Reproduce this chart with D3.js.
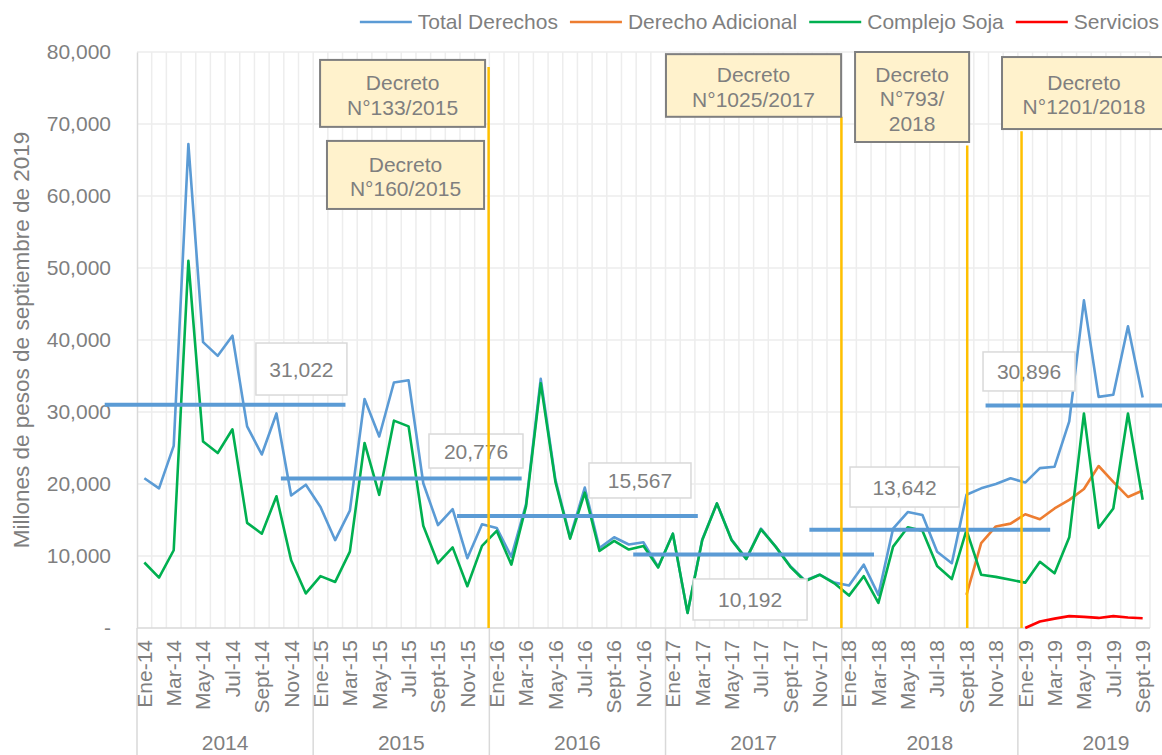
<!DOCTYPE html>
<html><head><meta charset="utf-8">
<script src="https://cdn.jsdelivr.net/npm/d3@7"></script>
<style>body{margin:0;background:#fff} svg{display:block;font-family:"Liberation Sans",Arial,sans-serif}</style>
</head><body><svg id="c" width="1162" height="755"></svg>
<script>
// ---------- DATA ----------
const monthNames = ["Ene","Feb","Mar","Abr","May","Jun","Jul","Ago","Sept","Oct","Nov","Dic"];
const years = [2014, 2015, 2016, 2017, 2018, 2019];
const monthCount = 69; // Ene-14 .. Sept-19

const totalDerechos = [
  20800, 19400, 25300, 67200, 39700, 37800, 40600, 28000, 24100, 29800, 18400, 19900,
  16800, 12200, 16300, 31800, 26600, 34100, 34400, 20100, 14300, 16500, 9700, 14400,
  13900, 9900, 17200, 34600, 20600, 12600, 19500, 11100, 12600, 11600, 11900, 8500,
  13100, 2100, 12300, 17300, 12300, 9600, 13800, 11300, 8600, 6600, 7400, 6300,
  5900, 8800, 4600, 13800, 16100, 15700, 10600, 9000, 18500, 19400, 20000, 20800,
  20200, 22200, 22400, 28700, 45500, 32100, 32400, 41900, 32000
];
const complejoSoja = [
  9100, 7000, 10800, 51000, 25900, 24300, 27600, 14600, 13100, 18300, 9400, 4800,
  7200, 6400, 10600, 25700, 18500, 28800, 28000, 14200, 9000, 11200, 5800, 11400,
  13500, 8800, 16900, 34000, 20300, 12400, 18800, 10700, 12100, 10900, 11400, 8400,
  13100, 2100, 12200, 17300, 12200, 9600, 13700, 11300, 8500, 6500, 7400, 6200,
  4500, 7200, 3500, 11300, 14000, 13500, 8600, 6800, 13600, 7400, 7100, 6700,
  6300, 9200, 7600, 12600, 29800, 13900, 16600, 29800, 17800
];
const derechoAdicionalStart = 56; // Sept-18
const derechoAdicional = [4600, 11800, 14100, 14500, 15800, 15100, 16600, 17800, 19300, 22500, 20300, 18200, 19100];
const serviciosStart = 60; // Ene-19
const servicios = [0, 900, 1300, 1650, 1550, 1400, 1650, 1450, 1350];

const yTicks = [0, 10000, 20000, 30000, 40000, 50000, 60000, 70000, 80000];
const yearAverages = [31022, 20776, 15567, 10192, 13642, 30896];
const seriesNames = ["Total Derechos", "Derecho Adicional", "Complejo Soja", "Servicios"];
const decretoTexts = [
  ["Decreto", "N°133/2015"],
  ["Decreto", "N°160/2015"],
  ["Decreto", "N°1025/2017"],
  ["Decreto", "N°793/", "2018"],
  ["Decreto", "N°1201/2018"]
];
// decree vertical markers, in month units (0 = start of Ene-14)
const decretoMonths = [23.95, 47.98, 56.55, 60.25];

// ---------- LAYOUT / STYLE ----------
const W = 1162, H = 755;
const plot = {left: 137, right: 1150, top: 52, bottom: 628};
const colors = ["#5B9BD5", "#ED7D31", "#00B050", "#FF0000"];
const gray = "#7F7F7F";
const font = 21;
const avgHalfLen = 8.2; // months
const markerTops = [77900, 71000, 67000, 69000];
// decree boxes: month-unit x range and value y range
const decretoBoxes = [
  {u0: 12.47, u1: 23.71, v0: 78900, v1: 69600},
  {u0: 12.94, u1: 23.64, v0: 67650, v1: 58200},
  {u0: 36.03, u1: 47.96, v0: 79700, v1: 71000},
  {u0: 48.91, u1: 56.68, v0: 80000, v1: 67500},
  {u0: 58.92, u1: 70.09, v0: 79300, v1: 69300}
];
// average label boxes: centre (month units, value) and pixel size
const avgLabelBoxes = [
  {u: 11.2, v: 35970, w: 91, h: 52},
  {u: 23.09, v: 24580, w: 94, h: 34},
  {u: 34.26, v: 20490, w: 102, h: 35},
  {u: 41.76, v: 3960, w: 114, h: 41},
  {u: 52.28, v: 19580, w: 109, h: 40},
  {u: 60.76, v: 35630, w: 92, h: 39}
];

// ---------- CHART ----------
const svg = d3.select("#c");
svg.append("rect").attr("width", W).attr("height", H).attr("fill", "#fff");

const xu = d3.scaleLinear().domain([0, monthCount]).range([plot.left, plot.right]);
const y = d3.scaleLinear().domain([0, 80000]).range([plot.bottom, plot.top]);
const categories = d3.range(monthCount).map(i => monthNames[i % 12] + "-" + String(years[Math.floor(i / 12)]).slice(2));
const xb = d3.scaleBand().domain(categories).range([plot.left, plot.right]);
const cx = i => xb(categories[i]) + xb.bandwidth() / 2;

// gridlines
const grid = svg.append("g");
grid.selectAll("line.v").data(d3.range(1, monthCount + 1)).join("line")
  .attr("x1", d => xu(d)).attr("x2", d => xu(d))
  .attr("y1", plot.top).attr("y2", plot.bottom)
  .attr("stroke", "#EDEDED").attr("stroke-width", 1.5);
grid.selectAll("line.h").data(yTicks.slice(1)).join("line")
  .attr("x1", plot.left).attr("x2", plot.right)
  .attr("y1", d => y(d)).attr("y2", d => y(d))
  .attr("stroke", "#EDEDED").attr("stroke-width", 1.5);

// y axis
const yAxis = svg.append("g").attr("transform", `translate(${plot.left},0)`)
  .call(d3.axisLeft(y).tickValues(yTicks).tickSize(0).tickPadding(26)
    .tickFormat(d => d === 0 ? "-" : d3.format(",")(d)));
yAxis.select(".domain").attr("stroke", "#D9D9D9").attr("stroke-width", 1.5);
yAxis.selectAll("text").attr("fill", gray).style("font-size", font + "px")
  .style("font-family", '"Liberation Sans",Arial,sans-serif');

// x axis baseline
svg.append("line").attr("x1", plot.left).attr("x2", plot.right)
  .attr("y1", plot.bottom).attr("y2", plot.bottom)
  .attr("stroke", "#D9D9D9").attr("stroke-width", 1.5);

// year separators
svg.selectAll("line.ysep").data(years.map((yr, k) => k * 12)).join("line")
  .attr("x1", d => xu(d)).attr("x2", d => xu(d))
  .attr("y1", plot.bottom).attr("y2", H)
  .attr("stroke", "#D9D9D9").attr("stroke-width", 1.5);

// month tick labels (every other month)
svg.append("g").selectAll("text").data(d3.range(0, monthCount, 2)).join("text")
  .attr("transform", d => `translate(${cx(d)},${plot.bottom + 12}) rotate(-90)`)
  .attr("dy", "0.35em").attr("text-anchor", "end")
  .attr("fill", gray).style("font-size", font + "px")
  .text(d => categories[d]);

// year labels
svg.append("g").selectAll("text").data(years).join("text")
  .attr("x", (d, k) => xu(k * 12 + 6)).attr("y", 750)
  .attr("text-anchor", "middle").attr("fill", gray).style("font-size", font + "px")
  .text(d => d);

// y title
svg.append("text")
  .attr("transform", `translate(29,${(plot.top + plot.bottom) / 2}) rotate(-90)`)
  .attr("text-anchor", "middle").attr("fill", gray).style("font-size", "22.5px")
  .text("Millones de pesos de septiembre de 2019");

// series
const seriesData = [
  {vals: totalDerechos, start: 0},
  {vals: derechoAdicional, start: derechoAdicionalStart},
  {vals: complejoSoja, start: 0},
  {vals: servicios, start: serviciosStart}
];
const line = d3.line().x(d => cx(d.i)).y(d => y(d.v));
seriesData.forEach((s, k) => {
  const pts = s.vals.map((v, j) => ({i: j + s.start, v}));
  svg.append("path").datum(pts).attr("d", line)
    .attr("fill", "none").attr("stroke", colors[k]).attr("stroke-width", 2.6)
    .attr("stroke-linejoin", "round");
});

// year-average lines
svg.append("g").selectAll("line").data(yearAverages).join("line")
  .attr("x1", (d, k) => xu(k * 12 + 6 - avgHalfLen))
  .attr("x2", (d, k) => xu(k * 12 + 6 + avgHalfLen))
  .attr("y1", d => y(d)).attr("y2", d => y(d))
  .attr("stroke", "#5B9BD5").attr("stroke-width", 4);

// average labels
const al = svg.append("g").selectAll("g").data(yearAverages).join("g")
  .attr("transform", (d, k) => `translate(${xu(avgLabelBoxes[k].u)},${y(avgLabelBoxes[k].v)})`);
al.append("rect")
  .attr("x", (d, k) => -avgLabelBoxes[k].w / 2).attr("y", (d, k) => -avgLabelBoxes[k].h / 2)
  .attr("width", (d, k) => avgLabelBoxes[k].w).attr("height", (d, k) => avgLabelBoxes[k].h)
  .attr("fill", "#fff").attr("stroke", "#D9D9D9").attr("stroke-width", 1.5);
al.append("text").attr("text-anchor", "middle").attr("dy", "0.36em")
  .attr("fill", gray).style("font-size", font + "px")
  .text(d => d3.format(",")(d));

// decree vertical markers
svg.append("g").selectAll("line").data(decretoMonths).join("line")
  .attr("x1", d => xu(d)).attr("x2", d => xu(d))
  .attr("y1", y(0)).attr("y2", (d, k) => y(markerTops[k]))
  .attr("stroke", "#FFC000").attr("stroke-width", 2.5);

// decree boxes
const db = svg.append("g").selectAll("g").data(decretoTexts).join("g");
db.append("rect")
  .attr("x", (d, k) => xu(decretoBoxes[k].u0)).attr("y", (d, k) => y(decretoBoxes[k].v0))
  .attr("width", (d, k) => xu(decretoBoxes[k].u1) - xu(decretoBoxes[k].u0))
  .attr("height", (d, k) => y(decretoBoxes[k].v1) - y(decretoBoxes[k].v0))
  .attr("fill", "#FFF2CC").attr("stroke", "#7F7F7F").attr("stroke-width", 2);
db.each(function(d, k) {
  const b = decretoBoxes[k];
  const mx = (xu(b.u0) + xu(b.u1)) / 2;
  const my = (y(b.v0) + y(b.v1)) / 2;
  const lh = 24.5, cap = 15;
  const blockH = cap + (d.length - 1) * lh;
  const first = my - blockH / 2 + cap + 1.5;
  d3.select(this).selectAll("text").data(d).join("text")
    .attr("x", mx).attr("y", (t, j) => first + j * lh)
    .attr("text-anchor", "middle").attr("fill", gray).style("font-size", font + "px")
    .text(t => t);
});

// legend (right aligned)
const lg = svg.append("g");
const items = seriesNames.map((n, k) => {
  const g = lg.append("g");
  g.append("line").attr("x1", 0).attr("x2", 52).attr("y1", 0).attr("y2", 0)
    .attr("stroke", colors[k]).attr("stroke-width", 2.6);
  const t = g.append("text").attr("x", 58).attr("dy", "0.35em").attr("fill", gray)
    .style("font-size", font + "px").text(n);
  return {g, w: 58 + t.node().getComputedTextLength()};
});
let xpos = 1159;
for (let k = items.length - 1; k >= 0; k--) {
  xpos -= items[k].w;
  items[k].g.attr("transform", `translate(${xpos},22)`);
  xpos -= 12;
}
</script></body></html>
